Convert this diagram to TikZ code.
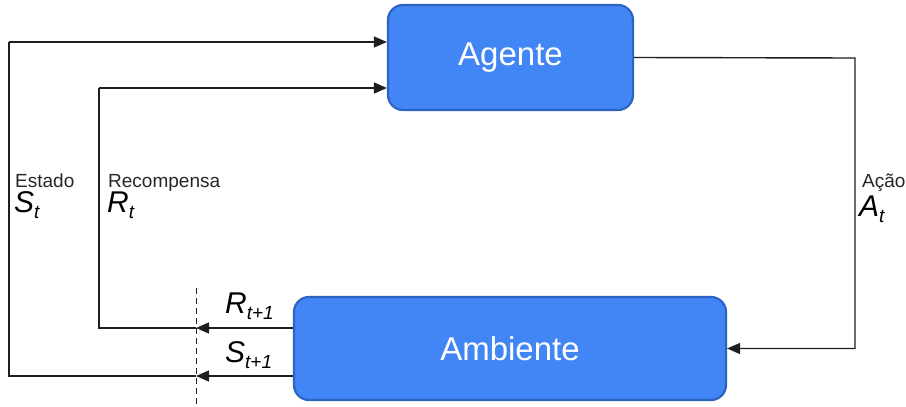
\documentclass[tikz,border=0pt]{standalone}
\usepackage{fontspec}
\setmainfont{Liberation Sans}
\usetikzlibrary{arrows.meta}
\definecolor{boxfill}{RGB}{66,134,245}
\definecolor{boxline}{RGB}{44,100,196}
\definecolor{lineclr}{RGB}{30,30,30}
\tikzset{
  boxstyle/.style={draw=boxline, line width=2.2pt, fill=boxfill, rounded corners=15pt,
    text=white, font=\fontsize{33}{33}\selectfont, inner sep=0pt},
  conn/.style={draw=lineclr, line width=1.4pt},
  arr/.style={conn, -{Triangle[length=13pt,width=11pt]}},
  small/.style={font=\fontsize{19}{19}\selectfont, inner sep=0pt, anchor=base west, text=black!85},
  big/.style={font=\fontsize{30}{30}\selectfont, inner sep=0pt, anchor=base west, text=black},
}
\newcommand{\sub}[1]{{\fontsize{19}{19}\selectfont\raisebox{-6pt}{\textit{#1}}}}
\begin{document}
\begin{tikzpicture}[x=1pt,y=-1pt]
\useasboundingbox (0,0) rectangle (906,407);
\node[boxstyle, minimum width=245pt, minimum height=105pt] (ag) at (510.5,57.5) {Agente};
\node[boxstyle, minimum width=432pt, minimum height=103pt] (amb) at (510,348.5) {Ambiente};
% dashed cut line
\coordinate (dtop) at (196,288);
\coordinate (dbot) at (196,407);
\draw[conn, dashed, line width=1pt, dash pattern=on 6pt off 4pt] (dtop) -- (dbot);
% corner coordinates
\coordinate (lo1) at (9,376);
\coordinate (lo2) at (9,42);
\coordinate (li1) at (99,328);
\coordinate (li2) at (99,88);
\coordinate (ro) at (855,58);
% right loop: action
\draw[arr] (ag.east) -- (ro) |- (amb.east);
% outer loop: state
\draw[arr] ([yshift=-27.5pt]amb.west) -- (dbot |- lo1);
\draw[conn] (dbot |- lo1) -- (lo1) -- (lo2);
\draw[arr] (lo2) -- (ag.west |- lo2);
% inner loop: reward
\draw[arr] ([yshift=20.5pt]amb.west) -- (dbot |- li1);
\draw[conn] (dbot |- li1) -- (li1) -- (li2);
\draw[arr] (li2) -- (ag.west |- li2);
% labels
\node[small] (estado) at (15,187) {Estado};
\node[big] (st) at (14,212) {\textit{S}\sub{t}};
\node[small] (recomp) at (108,187) {Recompensa};
\node[big] (rt) at (107,212) {\textit{R}\sub{t}};
\node[small] (acao) at (862,187) {Ação};
\node[big] (at) at (859,216) {\textit{A}\sub{t}};
\node[big] (rt1) at (225,313) {\textit{R}\sub{t+1}};
\node[big] (st1) at (225,362) {\textit{S}\sub{t+1}};
\end{tikzpicture}
\end{document}
